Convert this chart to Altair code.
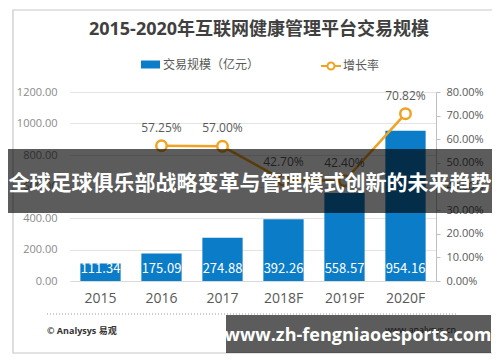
import altair as alt
import pandas as pd

years = ["2015", "2016", "2017", "2018F", "2019F", "2020F"]
amounts = [111.34, 175.09, 274.88, 392.26, 558.57, 954.16]
rate_years = ["2016", "2017", "2018F", "2019F", "2020F"]
rates = [0.5725, 0.5700, 0.4270, 0.4240, 0.7082]

title_text = "2015-2020年互联网健康管理平台交易规模"
bar_name = "交易规模（亿元）"
line_name = "增长率"
banner_text = "全球足球俱乐部战略变革与管理模式创新的未来趋势"
site_text = "www.zh-fengniaoesports.com"
source_text = "© Analysys 易观"
source_url = "www.analysys.cn"

BLUE = "#0a7cc8"
ORANGE = "#f0a322"
FONT = "Open Sans, Noto Sans CJK SC, sans-serif"
NUMFONT = "Noto Sans CJK SC, sans-serif"

bar_df = pd.DataFrame({"year": years, "amount": amounts, "s": [bar_name] * len(years)})
rate_df = pd.DataFrame({"year": rate_years, "rate": rates, "t": [line_name] * len(rate_years)})

x_enc = alt.X("year:N", scale=alt.Scale(domain=years, paddingInner=0.34, paddingOuter=0.17),
              axis=alt.Axis(title=None, labelAngle=0, ticks=False, labelPadding=10,
                            labelFontSize=14, labelColor="#595959", labelFont=FONT,
                            domainColor="#d9d9d9"))

y_amt = alt.Y("amount:Q", scale=alt.Scale(domain=[0, 1200], nice=False),
              axis=alt.Axis(title=None, values=[0, 200, 400, 600, 800, 1000, 1200], format=".2f",
                            ticks=False, domain=False, labelPadding=13, labelFontSize=11,
                            labelColor="#8a8a8a", labelFont=FONT, gridColor="#e3e3e3",
                            labelOverlap=False))

bars = alt.Chart(bar_df).mark_bar().encode(
    x=x_enc,
    y=y_amt,
    fill=alt.Fill("s:N", scale=alt.Scale(domain=[bar_name], range=[BLUE]),
                  legend=alt.Legend(title=None, orient="none", legendX=71, legendY=-37,
                                    symbolType="M-1,-0.42H1V0.42H-1Z", symbolSize=361,
                                    symbolStrokeWidth=0, labelFontSize=12, labelColor="#595959",
                                    labelFont=FONT, labelOffset=3, padding=0)),
)
bar_text = alt.Chart(bar_df).mark_text(color="white", fontSize=13, font=NUMFONT, dy=-8,
                                       baseline="alphabetic").encode(
    x=alt.X("year:N", scale=alt.Scale(domain=years)),
    y=alt.value(189),
    text=alt.Text("amount:Q", format=".2f"),
)
bar_layer = alt.layer(bars, bar_text)

rate_axis = alt.Axis(title=None, orient="right", values=[0, 0.1, 0.2, 0.3, 0.4, 0.5, 0.6, 0.7, 0.8],
                     format=".2%", tickSize=4, tickColor="#bfbfbf", domainColor="#bfbfbf",
                     grid=False, labelPadding=6, labelFontSize=11, labelColor="#595959",
                     labelFont=FONT, labelOverlap=False)
rate_scale = alt.Scale(domain=[0, 0.8], nice=False)


def y_rate():
    return alt.Y("rate:Q", scale=rate_scale, axis=rate_axis)


line = alt.Chart(rate_df).mark_line(strokeWidth=2.5).encode(
    x=alt.X("year:N", scale=alt.Scale(domain=years)),
    y=y_rate(),
    stroke=alt.Stroke("t:N", scale=alt.Scale(domain=[line_name], range=[ORANGE]),
                      legend=alt.Legend(title=None, orient="none", legendX=250, legendY=-37,
                                        symbolType="M-1,0H-0.35M0.35,0H1M-0.35,0A0.35,0.35 0 1,0 0.35,0A0.35,0.35 0 1,0 -0.35,0",
                                        symbolSize=400, symbolStrokeWidth=2, symbolFillColor="white",
                                        labelFontSize=12, labelColor="#595959", labelFont=FONT,
                                        labelOffset=1, padding=0)),
)
points = alt.Chart(rate_df).mark_point(filled=True, fill="white", stroke=ORANGE, strokeWidth=2.5,
                                       size=110, opacity=1).encode(
    x=alt.X("year:N", scale=alt.Scale(domain=years)),
    y=y_rate(),
)
rate_text = alt.Chart(rate_df).mark_text(color="#595959", fontSize=12, font=FONT, dy=-18).encode(
    x=alt.X("year:N", scale=alt.Scale(domain=years)),
    y=y_rate(),
    text=alt.Text("rate:Q", format=".2%"),
)
line_layer = alt.layer(line, points, rate_text)


def one(v):
    return pd.DataFrame({"v": [v]})


frame = alt.Chart(one(0)).mark_rect(fill="white", fillOpacity=0, stroke="#c8c8c8", strokeWidth=1.2).encode(
    x=alt.value(-57), x2=alt.value(423), y=alt.value(-82), y2=alt.value(261))
title = alt.Chart(one(title_text)).mark_text(fontSize=18, fontWeight="bold", color="#404040",
                                             font=FONT, baseline="middle").encode(
    x=alt.value(189), y=alt.value(-62), text="v:N")
dotted = alt.Chart(one(0)).mark_rule(color="#9a9a9a", strokeDash=[1, 2], strokeWidth=1).encode(
    x=alt.value(-23), x2=alt.value(387), y=alt.value(222))
source = alt.Chart(one(source_text)).mark_text(fontSize=9, fontWeight="bold", color="#333333",
                                               font=FONT, align="left", baseline="middle").encode(
    x=alt.value(-23), y=alt.value(239), text="v:N")
url = alt.Chart(one(source_url)).mark_text(fontSize=9, color="#333333", font=FONT,
                                           align="right", baseline="middle").encode(
    x=alt.value(386), y=alt.value(238), text="v:N")
banner = alt.Chart(one(0)).mark_rect(color="black", opacity=0.64).encode(
    x=alt.value(-62), x2=alt.value(422), y=alt.value(57), y2=alt.value(121))
banner_t = alt.Chart(one(banner_text)).mark_text(fontSize=21, fontWeight="bold", color="white",
                                                 font=FONT, baseline="middle").encode(
    x=alt.value(180), y=alt.value(92), text="v:N")
box = alt.Chart(one(0)).mark_rect(color="black", opacity=0.64).encode(
    x=alt.value(156), x2=alt.value(421), y=alt.value(223), y2=alt.value(261))
box_t = alt.Chart(one(site_text)).mark_text(fontSize=18, fontWeight="bold", color="white",
                                            font=FONT, baseline="middle").encode(
    x=alt.value(288), y=alt.value(244), text="v:N")

chart = alt.layer(
    frame, bar_layer, line_layer, title, dotted, source, url, banner, banner_t, box, box_t
).resolve_scale(y="independent").properties(
    width=366, height=189,
    autosize=alt.AutoSizeParams(type="none"),
    padding={"left": 62, "top": 84, "right": 56, "bottom": 73},
    background="white",
).configure_view(stroke=None)

chart.save("out.html", embed_options={"renderer": "svg", "actions": False})
